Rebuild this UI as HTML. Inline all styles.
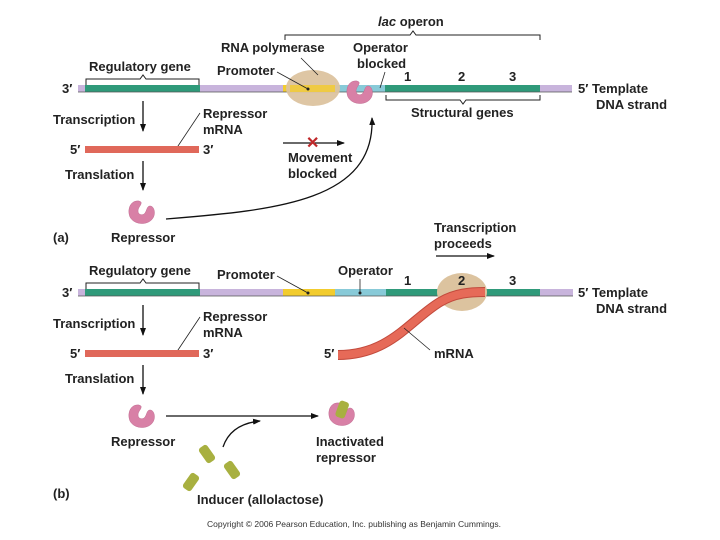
<!DOCTYPE html>
<html><head><meta charset="utf-8"><style>
body{margin:0;background:#fff}
svg{display:block}
text{font-family:"Liberation Sans",sans-serif;font-weight:bold;font-size:13px;fill:#222}
</style></head><body>
<svg width="720" height="540" viewBox="0 0 720 540">
<defs>
<marker id="ah" markerWidth="8" markerHeight="8" refX="7" refY="4" orient="auto" markerUnits="userSpaceOnUse"><path d="M0,1 L8,4 L0,7 Z" fill="#111"/></marker>
<g id="rep"><path d="M-3,-11 C-12,-12 -15,-2 -12,5 C-8,13 6,14 11,6 C14,1 12,-6 8,-6 C5,-6 5,-2 3,1 C1,4 -4,3 -4,-1 C-4,-5 0,-7 -1,-10 Z" fill="#d880a6" stroke="#c06a90" stroke-width="0.5"/></g>
<g id="ind"><rect x="-5" y="-9" width="10" height="18" rx="3" fill="#a8b040"/></g>
</defs>

<!-- (a) -->
<text x="378" y="26"><tspan font-style="italic">lac</tspan> operon</text>
<path d="M285,40 V35 H410 L413,31 L416,35 H540 V40" fill="none" stroke="#222" stroke-width="1"/>
<text x="221" y="52">RNA polymerase</text>
<text x="353" y="52">Operator</text><text x="357" y="68">blocked</text>
<text x="89" y="71">Regulatory gene</text>
<path d="M86,85 V79 H140 L143,75 L146,79 H199 V85" fill="none" stroke="#222"/>
<text x="217" y="75">Promoter</text>
<text x="62" y="93">3′</text>
<rect x="78" y="85" width="494" height="7" fill="#c8b4dc"/>
<rect x="85" y="85" width="115" height="7" fill="#2f9a7a"/>
<rect x="283" y="85" width="52" height="7" fill="#f2cc2e"/>
<rect x="335" y="85" width="50" height="7" fill="#88cad8"/>
<rect x="385" y="85" width="155" height="7" fill="#2f9a7a"/>
<line x1="78" y1="92" x2="572" y2="92" stroke="#555" stroke-width="0.7"/>
<ellipse cx="313" cy="88" rx="27" ry="18" fill="#dcc39f" opacity="0.95"/>
<rect x="290" y="85" width="45" height="7" fill="#f2cc2e" opacity="0.8"/>
<line x1="277" y1="72" x2="308" y2="89" stroke="#222" stroke-width="0.8"/><circle cx="308" cy="89" r="1.5" fill="#222"/>
<line x1="301" y1="58" x2="318" y2="75" stroke="#222" stroke-width="0.8"/>
<use href="#rep" x="360" y="92"/>
<line x1="385" y1="72" x2="380" y2="88" stroke="#222" stroke-width="0.8"/>
<text x="404" y="81">1</text><text x="458" y="81">2</text><text x="509" y="81">3</text>
<text x="578" y="93">5′ Template</text><text x="596" y="109">DNA strand</text>
<path d="M386,95 V100 H460 L463,104 L466,100 H540 V95" fill="none" stroke="#222"/>
<text x="411" y="117">Structural genes</text>
<text x="53" y="124">Transcription</text>
<line x1="143" y1="101" x2="143" y2="131" stroke="#111" stroke-width="1.3" marker-end="url(#ah)"/>
<text x="203" y="118">Repressor</text><text x="203" y="134">mRNA</text>
<line x1="200" y1="113" x2="176" y2="149" stroke="#222" stroke-width="0.8"/><circle cx="176" cy="149" r="1.5" fill="#222"/>
<text x="70" y="154">5′</text>
<rect x="85" y="146" width="114" height="7" fill="#e0685a"/>
<text x="203" y="154">3′</text>
<line x1="283" y1="143" x2="344" y2="143" stroke="#111" stroke-width="1.3" marker-end="url(#ah)"/>
<text x="306" y="148" fill="#c0282a" style="fill:#c0282a;font-size:16px">✕</text>
<text x="288" y="162">Movement</text><text x="288" y="178">blocked</text>
<text x="65" y="179">Translation</text>
<line x1="143" y1="161" x2="143" y2="190" stroke="#111" stroke-width="1.3" marker-end="url(#ah)"/>
<use href="#rep" x="142" y="212"/>
<path d="M166,219 C280,210 375,200 372,118" fill="none" stroke="#111" stroke-width="1.3" marker-end="url(#ah)"/>
<text x="53" y="242">(a)</text><text x="111" y="242">Repressor</text>

<!-- (b) -->
<text x="434" y="232">Transcription</text><text x="434" y="248">proceeds</text>
<line x1="436" y1="256" x2="494" y2="256" stroke="#111" stroke-width="1.3" marker-end="url(#ah)"/>
<text x="89" y="275">Regulatory gene</text>
<path d="M86,289 V283 H140 L143,279 L146,283 H199 V289" fill="none" stroke="#222"/>
<text x="217" y="279">Promoter</text>
<text x="338" y="275">Operator</text>
<text x="62" y="297">3′</text>
<rect x="78" y="289" width="495" height="7" fill="#c8b4dc"/>
<rect x="85" y="289" width="115" height="7" fill="#2f9a7a"/>
<rect x="283" y="289" width="52" height="7" fill="#f2cc2e"/>
<rect x="335" y="289" width="51" height="7" fill="#88cad8"/>
<rect x="386" y="289" width="154" height="7" fill="#2f9a7a"/>
<line x1="78" y1="296" x2="573" y2="296" stroke="#555" stroke-width="0.7"/>
<line x1="277" y1="276" x2="308" y2="293" stroke="#222" stroke-width="0.8"/><circle cx="308" cy="293" r="1.5" fill="#222"/>
<line x1="360" y1="279" x2="360" y2="293" stroke="#222" stroke-width="0.8"/><circle cx="360" cy="293" r="1.5" fill="#222"/>
<ellipse cx="462" cy="292" rx="25" ry="19" fill="#dcc39f"/>
<path d="M338,355 C390,355 410,320 440,302 C455,293 470,292 485,292" fill="none" stroke="#c24a3c" stroke-width="10"/>
<path d="M338,355 C390,355 410,320 440,302 C455,293 470,292 485,292" fill="none" stroke="#e66a58" stroke-width="8"/>
<text x="404" y="285">1</text><text x="458" y="285">2</text><text x="509" y="285">3</text>
<text x="578" y="297">5′ Template</text><text x="596" y="313">DNA strand</text>
<text x="53" y="328">Transcription</text>
<line x1="143" y1="305" x2="143" y2="335" stroke="#111" stroke-width="1.3" marker-end="url(#ah)"/>
<text x="203" y="321">Repressor</text><text x="203" y="337">mRNA</text>
<line x1="200" y1="317" x2="176" y2="353" stroke="#222" stroke-width="0.8"/><circle cx="176" cy="353" r="1.5" fill="#222"/>
<text x="70" y="358">5′</text>
<rect x="85" y="350" width="114" height="7" fill="#e0685a"/>
<text x="203" y="358">3′</text>
<text x="324" y="358">5′</text>
<line x1="404" y1="328" x2="430" y2="350" stroke="#222" stroke-width="0.8"/>
<text x="434" y="358">mRNA</text>
<text x="65" y="383">Translation</text>
<line x1="143" y1="365" x2="143" y2="394" stroke="#111" stroke-width="1.3" marker-end="url(#ah)"/>
<use href="#rep" x="142" y="416"/>
<line x1="166" y1="416" x2="318" y2="416" stroke="#111" stroke-width="1.3" marker-end="url(#ah)"/>
<use href="#rep" x="342" y="414"/>
<rect x="337" y="401" width="10" height="17" rx="3" fill="#a8b040" transform="rotate(20 342 410)"/>
<path d="M223,447 C228,432 240,423 260,421" fill="none" stroke="#111" stroke-width="1.3" marker-end="url(#ah)"/>
<text x="111" y="446">Repressor</text>
<text x="316" y="446">Inactivated</text><text x="316" y="462">repressor</text>
<use href="#ind" transform="translate(207,454) rotate(-35)"/>
<use href="#ind" transform="translate(232,470) rotate(-35)"/>
<use href="#ind" transform="translate(191,482) rotate(35)"/>
<text x="53" y="498">(b)</text>
<text x="197" y="504">Inducer (allolactose)</text>
<text x="207" y="527" style="font-weight:normal;font-size:8.5px;fill:#333">Copyright © 2006 Pearson Education, Inc.  publishing as Benjamin Cummings.</text>
</svg>
</body></html>
